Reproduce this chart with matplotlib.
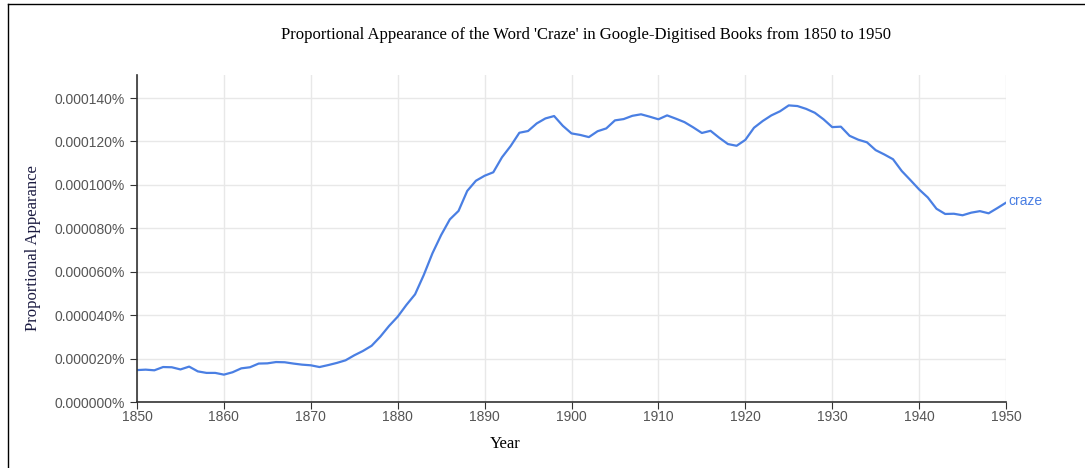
import numpy as np
import matplotlib.pyplot as plt
from matplotlib.lines import Line2D
from matplotlib.ticker import FuncFormatter

years = np.arange(1850, 1951)
# values in units of 1e-6 percent
craze = [14.7, 14.9, 14.6, 16.1, 16.0, 15.0, 16.3, 14.1, 13.4, 13.4,
         12.6, 13.7, 15.5, 16.0, 17.7, 17.8, 18.4, 18.3, 17.7, 17.2,
         16.9, 16.1, 17.0, 18.0, 19.2, 21.5, 23.5, 25.9, 30.1, 35.0,
         39.3, 44.7, 49.6, 58.5, 68.5, 76.9, 84.1, 88.0, 97.2, 101.9,
         104.2, 105.8, 112.7, 117.9, 124.0, 124.8, 128.3, 130.6, 131.7, 127.2,
         123.7, 123.0, 122.0, 124.7, 126.0, 129.7, 130.3, 131.8, 132.5, 131.4,
         130.2, 132.0, 130.5, 128.9, 126.5, 123.9, 124.9, 121.7, 118.8, 118.0,
         120.7, 126.3, 129.4, 132.0, 133.9, 136.6, 136.3, 135.0, 133.2, 130.2,
         126.6, 126.8, 122.6, 120.8, 119.6, 116.0, 114.0, 111.8, 106.4, 102.2,
         97.9, 94.2, 89.0, 86.6, 86.7, 86.0, 87.2, 87.9, 86.9, 89.3,
         91.8]
yticks = [0, 20, 40, 60, 80, 100, 120, 140]
xticks = list(range(1850, 1951, 10))

blue = '#4a7fe3'
fig = plt.figure(figsize=(10.85, 4.68), dpi=100)
ax = fig.add_axes([137/1085, 1 - 402/468, (1006-137)/1085, (402-75)/468])

ax.plot(years, craze, color=blue, lw=1.6)
ax.text(1950.3, craze[-1] + 0.8, 'craze', color=blue, fontsize=10,
        family='Liberation Sans', va='center', ha='left')

ax.set_xlim(1850, 1950)
ax.set_ylim(0, 150.6)
ax.set_xticks(xticks)
ax.set_yticks(yticks)
ax.yaxis.set_major_formatter(FuncFormatter(lambda v, p: f"{v*1e-6:.6f}%"))
ax.grid(color='#e8e8e8', lw=1)
ax.set_axisbelow(True)
for s in ['top', 'right']:
    ax.spines[s].set_visible(False)
for s in ['left', 'bottom']:
    ax.spines[s].set_color('#333333')
    ax.spines[s].set_linewidth(1.2)
ax.tick_params(direction='out', length=5, color='#333333', labelcolor='#555555',
               labelsize=10)
ax.tick_params(axis='x', pad=1)
for lab in ax.get_xticklabels() + ax.get_yticklabels():
    lab.set_family('Liberation Sans')

fig.text(586/1085, 1 - 35/468, "Proportional Appearance of the Word 'Craze' in Google-Digitised Books from 1850 to 1950",
         ha='center', va='center', family='Liberation Serif', fontsize=12)
fig.text(505/1085, 1 - 444/468, 'Year', ha='center', va='center',
         family='Liberation Serif', fontsize=12)
fig.text(33/1085, 1 - 248/468, 'Proportional Appearance', ha='center', va='center',
         rotation=90, family='Liberation Serif', fontsize=12, color='#1a1a40')

fig.add_artist(Line2D([8/1085, 8/1085], [0, 1 - 4/468], color='black', lw=1))
fig.add_artist(Line2D([8/1085, 1], [1 - 4/468, 1 - 4/468], color='black', lw=1))

plt.savefig('out.png', dpi=100)
